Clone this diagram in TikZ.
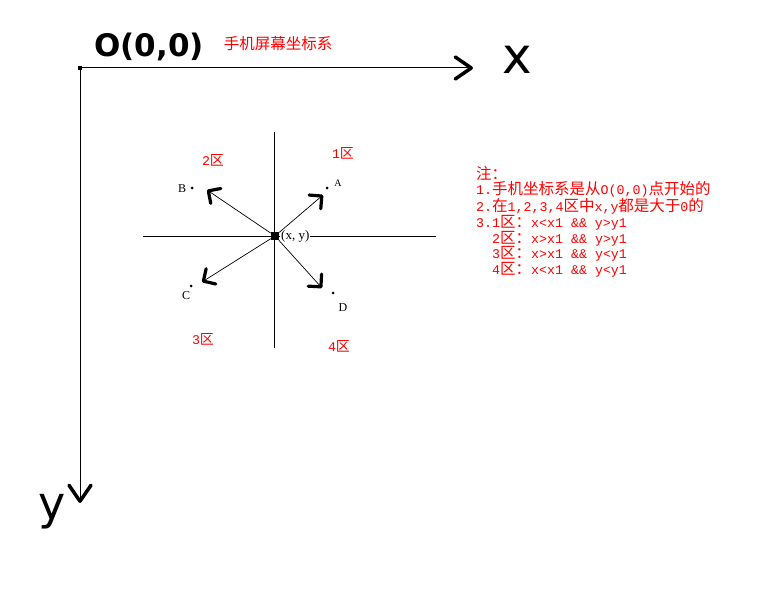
\documentclass[tikz,border=0pt]{standalone}
\usepackage{fontspec}
\setmainfont{Liberation Serif}
\newfontfamily\cjk{Noto Sans CJK SC}
\newfontfamily\hand{DejaVu Sans}
\newfontfamily\lat{Liberation Mono}
\newcommand{\lt}[1]{{\lat\fontsize{13.3}{15.7}\selectfont #1}}
\usetikzlibrary{arrows.meta}
\definecolor{notered}{RGB}{255,0,0}
\begin{document}
\begin{tikzpicture}[x=1pt,y=-1pt,
  axisline/.style={line width=1pt,-{Straight Barb[length=16pt,width=22pt,line width=3.5pt,round]}},
  ray/.style={line width=0.7pt,-{Straight Barb[length=9pt,width=18pt,line width=3.2pt,round]}},
  thinline/.style={line width=0.9pt},
  redtxt/.style={text=notered,font=\cjk\fontsize{14}{15}\selectfont,inner sep=0pt},
  ptlabel/.style={font=\fontsize{12}{12}\selectfont,inner sep=0pt},
  pt/.style={circle,fill,inner sep=0pt,minimum size=3pt},
  handtxt/.style={font=\hand\bfseries,inner sep=0pt}]
\useasboundingbox (0,0) rectangle (783,591);
\fill[white] (0,0) rectangle (783,591);

% main axes
\node[fill,minimum size=4pt,inner sep=0pt] (o) at (80,68) {};
\coordinate (xend) at (473,68);
\coordinate (yend) at (80,503);
\draw[axisline] (o.center) -- (xend);
\draw[axisline] (o.center) -- (yend);
\node[handtxt,font=\hand\bfseries\fontsize{31}{31}\selectfont] (olab) at (149,47) {O(0,0)};
\node[handtxt,font=\hand\fontsize{50}{50}\selectfont] (xlab) at (517,60) {x};
\node[handtxt,font=\hand\fontsize{46}{46}\selectfont] (ylab) at (52,512) {y};
\node[redtxt,font=\cjk\fontsize{15.5}{15.5}\selectfont] (title) at (278,44) {手机屏幕坐标系};

% central cross
\coordinate (vt) at (274,132);
\coordinate (vb) at (274,348);
\coordinate (hl) at (143,236);
\coordinate (hr) at (436,236);
\draw[thinline] (vt) -- (vb);
\draw[thinline] (hl) -- (hr);
\node[fill,minimum size=8pt,inner sep=0pt] (c) at (275,236) {};
\node[ptlabel,font=\fontsize{13}{13}\selectfont,fill=white,inner xsep=1pt,inner ysep=2pt,anchor=west] (cl) at (280,236) {(x, y)};

% points
\node[pt] (pa) at (327,188) {};
\node[pt] (pb) at (192,188) {};
\node[pt] (pc) at (191,286) {};
\node[pt] (pd) at (333,293) {};
\node[ptlabel,font=\fontsize{10}{10}\selectfont] (la) at (338,183) {A};
\node[ptlabel] (lb) at (182,189) {B};
\node[ptlabel] (lc) at (186,296) {C};
\node[ptlabel] (ld) at (343,308) {D};

% rays
\coordinate (ea) at (323,195);
\coordinate (eb) at (207,190);
\coordinate (ec) at (202,282);
\coordinate (ed) at (322,288);
\draw[ray] (c) -- (ea);
\draw[ray] (c) -- (eb);
\draw[ray] (c) -- (ec);
\draw[ray] (c) -- (ed);

% region labels
\node[redtxt] (r1) at (343,153) {\lt{1}区};
\node[redtxt] (r2) at (213,160) {\lt{2}区};
\node[redtxt] (r3) at (203,339) {\lt{3}区};
\node[redtxt] (r4) at (339,346) {\lt{4}区};

% notes
\node[redtxt,font=\cjk\fontsize{15.5}{15.7}\selectfont,align=left,anchor=north west] (notes) at (476,166) {%
注：\\
\lt{1.}手机坐标系是从\lt{O(0,0)}点开始的\\
\lt{2.}在\lt{1,2,3,4}区中\lt{x,y}都是大于\lt{0}的\\
\lt{3.1}区：\lt{x<x1 \&\& y>y1}\\
\hspace*{16pt}\lt{2}区：\lt{x>x1 \&\& y>y1}\\
\hspace*{16pt}\lt{3}区：\lt{x>x1 \&\& y<y1}\\
\hspace*{16pt}\lt{4}区：\lt{x<x1 \&\& y<y1}};
\end{tikzpicture}
\end{document}
